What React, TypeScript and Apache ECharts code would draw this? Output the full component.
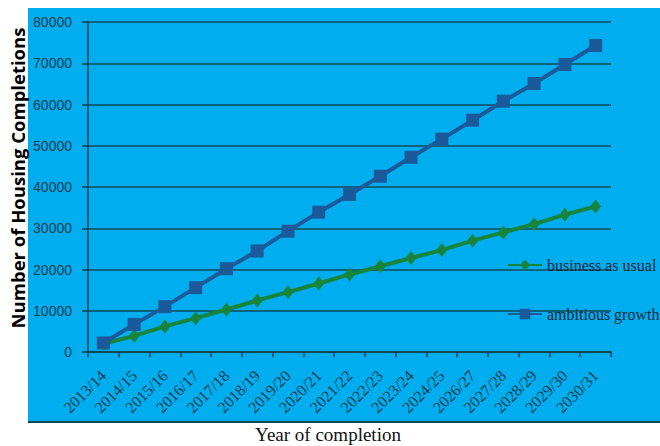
import React, { useEffect, useRef } from "react";
import * as echarts from "echarts";

const categories = [
  "2013/14", "2014/15", "2015/16", "2016/17", "2017/18", "2018/19",
  "2019/20", "2020/21", "2021/22", "2022/23", "2023/24", "2024/25",
  "2026/27", "2027/28", "2028/29", "2029/30", "2030/31",
];
const businessAsUsual = [
  2000, 3900, 6200, 8200, 10300, 12500, 14500, 16600, 18800, 20800,
  22800, 24700, 27000, 29000, 31000, 33300, 35300,
];
const ambitiousGrowth = [
  2200, 6700, 11000, 15600, 20200, 24500, 29300, 33900, 38200, 42600,
  47200, 51600, 56200, 60800, 65100, 69700, 74300,
];
const yTicks = { min: 0, max: 80000, interval: 10000 };

const DARK = "#0d3f52";

export default function App() {
  const ref = useRef<HTMLDivElement>(null);
  useEffect(() => {
    if (!ref.current) return;
    const chart = echarts.init(ref.current, null, { renderer: "svg" });
    chart.setOption({
      animation: false,
      backgroundColor: "#ffffff",
      graphic: [
        {
          type: "rect",
          z: -10,
          shape: { x: 28, y: 8, width: 632, height: 414 },
          style: { fill: "#00adef" },
        },
        {
          type: "line",
          z: -9,
          shape: { x1: 28, y1: 422, x2: 660, y2: 422 },
          style: { stroke: "#0b4a5c", lineWidth: 2 },
        },
        {
          type: "text",
          x: 17,
          y: 178,
          rotation: Math.PI / 2,
          style: {
            text: "Number of Housing Completions",
            align: "center",
            verticalAlign: "middle",
            fontFamily: "Open Sans",
            fontWeight: "bold",
            fontSize: 18.5,
            fill: "#000000",
          },
        },
        {
          type: "text",
          x: 328,
          y: 434,
          style: {
            text: "Year of completion",
            align: "center",
            verticalAlign: "middle",
            fontFamily: "Liberation Serif",
            fontSize: 19,
            fill: "#111111",
          },
        },
      ],
      grid: {
        left: 88,
        right: 49,
        top: 22,
        bottom: 94,
        containLabel: false,
        outerBoundsMode: "none",
      },
      legend: {
        orient: "vertical",
        left: 502,
        top: 252,
        itemGap: 33,
        itemWidth: 34,
        itemHeight: 13,
        textStyle: {
          fontFamily: "Liberation Serif",
          fontSize: 16,
          color: "#14283a",
        },
        data: ["business as usual", "ambitious growth"],
      },
      xAxis: {
        type: "category",
        data: categories,
        boundaryGap: true,
        axisLine: { lineStyle: { color: DARK, width: 1.5 } },
        axisTick: { show: true, length: 5, lineStyle: { color: DARK, width: 1.5 } },
        axisLabel: {
          rotate: 45,
          interval: 0,
          margin: 21,
          fontFamily: "Liberation Serif",
          fontSize: 16,
          color: DARK,
        },
      },
      yAxis: {
        type: "value",
        min: yTicks.min,
        max: yTicks.max,
        interval: yTicks.interval,
        axisLine: { show: true, lineStyle: { color: DARK, width: 1.5 } },
        axisTick: { show: true, length: 6, lineStyle: { color: DARK, width: 1.5 } },
        splitLine: { show: true, lineStyle: { color: "#124a5a", width: 1.5 } },
        axisLabel: {
          margin: 16,
          fontFamily: "Liberation Sans",
          fontSize: 14,
          color: DARK,
          formatter: (v: number) => String(v),
        },
      },
      series: [
        {
          name: "business as usual",
          type: "line",
          data: businessAsUsual,
          symbol: "diamond",
          symbolSize: [11, 14],
          itemStyle: { color: "#16843b" },
          lineStyle: { color: "#16843b", width: 4 },
        },
        {
          name: "ambitious growth",
          type: "line",
          data: ambitiousGrowth,
          symbol: "rect",
          symbolSize: 13,
          itemStyle: { color: "#1b5a9a" },
          lineStyle: { color: "#1b5a9a", width: 4 },
        },
      ],
    });
    return () => chart.dispose();
  }, []);
  return (
    <div
      ref={ref}
      style={{ position: "fixed", left: 0, top: 0, width: 660, height: 446 }}
    />
  );
}
